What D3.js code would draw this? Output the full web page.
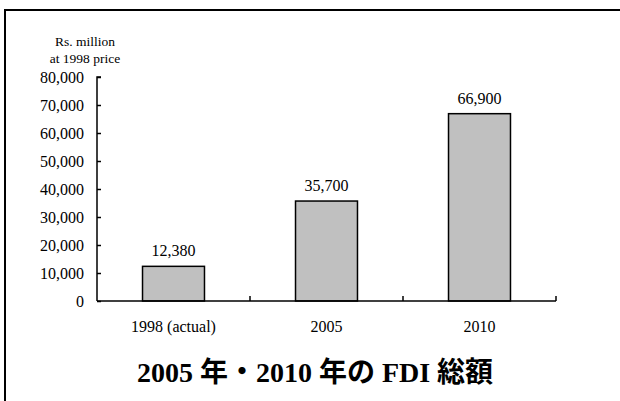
<!DOCTYPE html>
<html><head><meta charset="utf-8">
<script src="https://cdn.jsdelivr.net/npm/d3@7"></script>
<style>
body{margin:0;background:#fff;}
svg{display:block;}
text{font-family:"Liberation Serif","Times New Roman","Noto Sans CJK JP",serif;fill:#000;}
</style></head>
<body><svg id="c" width="620" height="401"></svg>
<script>
const categories = ["1998 (actual)", "2005", "2010"];
const values = [12380, 35700, 66900];
const valueLabels = ["12,380", "35,700", "66,900"];
const yTicks = [0, 10000, 20000, 30000, 40000, 50000, 60000, 70000, 80000];
const yTitle = ["Rs. million", "at 1998 price"];
const title = "2005 年・2010 年の FDI 総額";

const svg = d3.select("#c");
// frame
svg.append("line").attr("x1",5).attr("x2",620).attr("y1",10).attr("y2",10).attr("stroke","#000").attr("stroke-width",2);
svg.append("line").attr("x1",5).attr("x2",5).attr("y1",9).attr("y2",401).attr("stroke","#000").attr("stroke-width",2);

const x0 = 97, x1 = 556, yb = 301, yt = 77;
const x = d3.scaleBand().domain(categories).range([x0, x1]).padding(0);
const y = d3.scaleLinear().domain([0, 80000]).range([yb, yt]);

// bars
const bw = x.bandwidth() * 0.405;
svg.selectAll("rect.bar").data(values).enter().append("rect")
  .attr("x", (d,i) => x(categories[i]) + x.bandwidth()/2 - bw/2)
  .attr("y", d => y(d))
  .attr("width", bw)
  .attr("height", d => yb - y(d))
  .attr("fill", "#c0c0c0").attr("stroke", "#000").attr("stroke-width", 1.5);

// value labels
svg.selectAll("text.vl").data(values).enter().append("text")
  .attr("x", (d,i) => x(categories[i]) + x.bandwidth()/2)
  .attr("y", d => y(d) - 10)
  .attr("text-anchor","middle").attr("font-size",16)
  .text((d,i) => valueLabels[i]);

// y axis
const yAxis = d3.axisRight(y).tickValues(yTicks).tickSize(4).tickFormat(d3.format(","));
const gy = svg.append("g").attr("transform", `translate(${x0},0)`).call(yAxis);
gy.select(".domain").attr("stroke","#000").attr("stroke-width",1.5).attr("d", `M4,${yt}H0V${yb}`);
gy.selectAll(".tick line").attr("stroke","#000").attr("stroke-width",1.5);
gy.selectAll(".tick text").attr("x",-13).attr("text-anchor","end").attr("font-size",16)
  .attr("font-family","Liberation Serif").attr("fill","#000");

// x axis
const xAxis = d3.axisTop(x).tickSize(0).tickFormat("");
const gx = svg.append("g").attr("transform", `translate(0,${yb})`).call(xAxis);
gx.select(".domain").attr("stroke","#000").attr("stroke-width",1.5).attr("d", `M${x0},0H${x1}`);
gx.selectAll(".tick").remove();
const bounds = categories.map(c => x(c) + x.bandwidth());
svg.selectAll("line.xt").data(bounds).enter().append("line")
  .attr("x1", d => d).attr("x2", d => d).attr("y1", yb).attr("y2", yb - 5)
  .attr("stroke","#000").attr("stroke-width",1.5);

// category labels
svg.selectAll("text.cl").data(categories).enter().append("text")
  .attr("x", d => x(d) + x.bandwidth()/2).attr("y", 332)
  .attr("text-anchor","middle").attr("font-size",16).text(d => d);

// y title
svg.selectAll("text.yt").data(yTitle).enter().append("text")
  .attr("x", 85).attr("y", (d,i) => 46 + i*17)
  .attr("text-anchor","middle").attr("font-size",13.5).text(d => d);

// title
svg.append("text").attr("x", 315).attr("y", 382).attr("text-anchor","middle")
  .attr("font-size",28).attr("font-weight","bold").text(title);
</script></body></html>
